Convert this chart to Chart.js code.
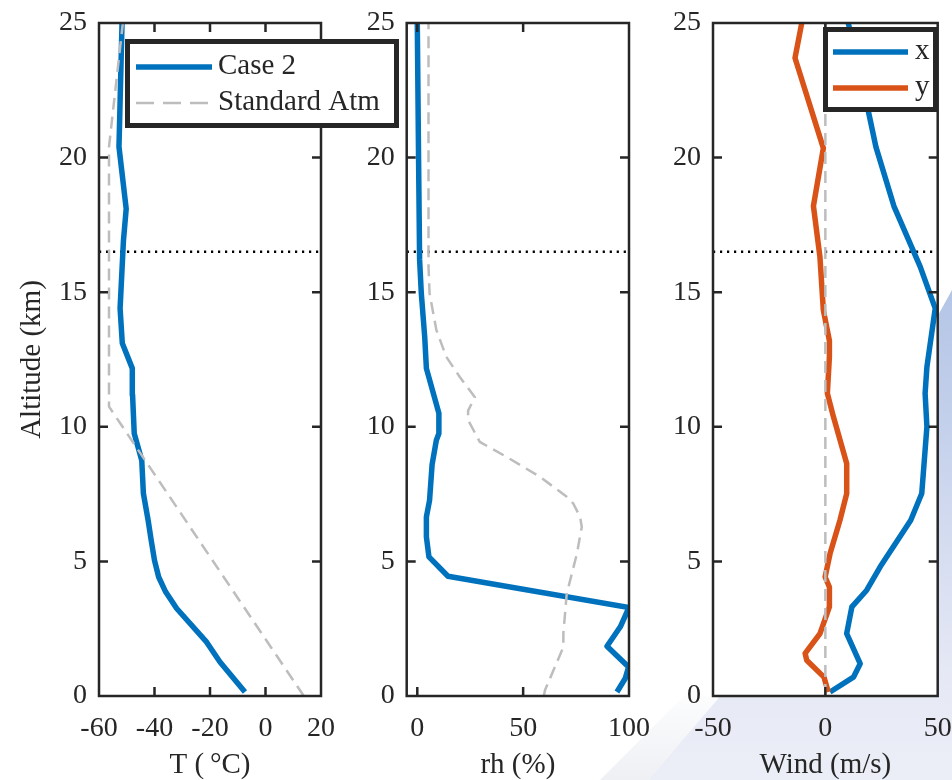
<!DOCTYPE html>
<html>
<head>
<meta charset="utf-8">
<script src="https://cdn.jsdelivr.net/npm/chart.js@4.4.0/dist/chart.umd.min.js"></script>
<style>
  html, body { margin: 0; padding: 0; background: #fff; }
  #wrap { position: relative; width: 952px; height: 780px; overflow: hidden; background: #fff; }
  #wrap canvas { position: absolute; left: 0; top: 0; }
  #swoosh {
    position: absolute; left: 0; top: 0; width: 952px; height: 780px;
    background: linear-gradient(to bottom, #b4c5e6 290px, #c3d0eb 420px, #d7def1 560px, #e6e9f5 680px, #eceef7 780px);
    clip-path: polygon(648px 780px, 717px 700px, 800px 560px, 880px 420px, 952px 290px, 952px 780px);
  }
  #glint {
    position: absolute; left: 0; top: 0; width: 952px; height: 780px;
    background: linear-gradient(to bottom, rgba(236,238,243,0) 680px, #eef0f4 780px);
    clip-path: polygon(600px 780px, 690px 690px, 717px 700px, 648px 780px);
  }
</style>
</head>
<body>
<div id="wrap">
  <div id="swoosh"></div>
  <div id="glint"></div>
  <canvas id="cT" width="952" height="780"></canvas>
  <canvas id="cRH" width="952" height="780"></canvas>
  <canvas id="cW" width="952" height="780"></canvas>
</div>
<script>
// ---- Temperature profile (altitude km, T in deg C) ----
const tempAlt  = [0.15, 1.26, 2.0, 3.25, 3.87, 4.42, 5.04, 5.79, 6.53, 7.52, 8.76, 9.75, 11.18, 12.17, 13.1, 14.4, 16.9, 18.1, 20.4, 25];
const tempCase = [-7.4, -16.4, -21.2, -32.0, -36.0, -38.5, -40.0, -41.2, -42.3, -44.0, -44.6, -47.3, -47.9, -48.0, -51.6, -52.4, -51.2, -50.2, -52.8, -51.7];
const stdTempAlt = [0, 10.75, 20.4, 25];
const stdTemp    = [13.8, -56.4, -56.4, -51.4];

// ---- Relative humidity profile (%) ----
const rhAlt  = [0.15, 0.65, 1.08, 1.85, 2.57, 3.29, 4.45, 5.17, 5.91, 6.65, 7.27, 8.6, 9.5, 9.75, 10.5, 12.17, 13.35, 14.96, 16.2, 20, 25];
const rhCase = [94.3, 98.2, 99.8, 89.6, 95.9, 100, 14.5, 5.5, 4.3, 4.3, 5.8, 7.0, 9.0, 10.2, 10.2, 4.3, 3.5, 1.9, 1.1, 0.6, 0];
const stdRhAlt = [0, 0.21, 1.08, 1.82, 2.32, 3.81, 4.05, 5.29, 6.28, 6.65, 7.16, 7.4, 8.14, 8.88, 9.44, 10.25, 10.6, 11.1, 11.86, 12.6, 13.6, 14.96, 15.95, 25];
const stdRh    = [59.8, 60.3, 65, 69, 69, 70.6, 71.4, 75.4, 77.7, 76.9, 73.6, 70.6, 58, 42.2, 29.5, 24, 24, 27.2, 20, 13.7, 9, 5.8, 5.3, 5.3];

// ---- Wind components (m/s) ----
const windXAlt = [0.15, 0.7, 1.2, 2.32, 3.31, 3.93, 4.8, 6.53, 7.52, 10.0, 11.24, 12.23, 14.4, 15.95, 18.2, 20.4, 21.7, 25];
const windX    = [2.1, 12.5, 15.5, 9.5, 11.8, 18.4, 24.4, 38.0, 42.9, 45.2, 44.4, 45.2, 48.9, 42.2, 30.5, 22.5, 19.2, 10.2];
const windYAlt = [0.15, 0.7, 1.33, 1.58, 2.32, 3.31, 4.05, 4.42, 5.29, 6.53, 7.52, 8.64, 10.37, 11.24, 12.6, 13.2, 14.34, 16.3, 18.2, 20.35, 23.7, 25];
const windY    = [1.3, -0.6, -8.3, -9.0, -2.4, 1.8, 1.8, -0.1, 2.1, 6.5, 9.5, 9.5, 3.6, 0.9, 1.8, 1.8, -0.9, -2.4, -5.3, -0.9, -13.5, -10.5];
const stdWindAlt = [0, 25];
const stdWind    = [0, 0];

// ---- Tropopause and axes ----
const tropopause = 16.5;
const altLimits  = [0, 25];
const altTicks   = [0, 5, 10, 15, 20, 25];
const tempLimits = [-60, 20];
const tempTicks  = [-60, -40, -20, 0, 20];
const rhLimits   = [-5, 100];
const rhTicks    = [0, 50, 100];
const windLimits = [-50, 50];
const windTicks  = [-50, 0, 50];

const INK = '#262626';
const BLUE = '#0072BD';
const ORANGE = '#D95319';
const GREY = '#bdbdbd';
const FONT = 'Liberation Serif, Times New Roman, serif';

const pairs = (xs, ys) => xs.map((v, i) => ({ x: v, y: ys[i] }));

function profile(label, xs, ys, color, width, dash, order) {
  return {
    label, data: pairs(xs, ys), showLine: true, fill: false,
    borderColor: color, backgroundColor: color, borderWidth: width,
    borderDash: dash || [], pointRadius: 0, pointHoverRadius: 0,
    tension: 0, borderJoinStyle: 'round', order
  };
}
function tropoLine(limits) {
  return {
    label: '', data: [{ x: limits[0], y: tropopause }, { x: limits[1], y: tropopause }],
    showLine: true, fill: false, borderColor: '#000', borderWidth: 2.4,
    borderDash: [2.2, 4.8], pointRadius: 0, order: 3
  };
}

// white axes background
const plotBg = {
  id: 'plotBg',
  beforeDraw(chart) {
    const { ctx, chartArea: a } = chart;
    ctx.save();
    ctx.fillStyle = '#fff';
    ctx.fillRect(a.left, a.top, a.right - a.left, a.bottom - a.top);
    ctx.restore();
  }
};

// box frame with inward tick marks on all four sides
const frame = {
  id: 'frame',
  afterDatasetsDraw(chart) {
    const { ctx, chartArea: a, scales: { x, y } } = chart;
    const L = 9;
    ctx.save();
    ctx.strokeStyle = INK;
    ctx.lineWidth = 2.5;
    ctx.setLineDash([]);
    ctx.beginPath();
    x.ticks.forEach(t => {
      const px = x.getPixelForValue(t.value);
      if (px <= a.left + 1 || px >= a.right - 1) return;
      ctx.moveTo(px, a.bottom); ctx.lineTo(px, a.bottom - L);
      ctx.moveTo(px, a.top); ctx.lineTo(px, a.top + L);
    });
    y.ticks.forEach(t => {
      const py = y.getPixelForValue(t.value);
      if (py <= a.top + 1 || py >= a.bottom - 1) return;
      ctx.moveTo(a.left, py); ctx.lineTo(a.left + L, py);
      ctx.moveTo(a.right, py); ctx.lineTo(a.right - L, py);
    });
    ctx.stroke();
    ctx.strokeRect(a.left, a.top, a.right - a.left, a.bottom - a.top);
    ctx.restore();
  }
};

// boxed legend, entries taken from the chart's own datasets
const boxLegend = {
  id: 'boxLegend',
  afterDraw(chart, args, opts) {
    if (!opts || !opts.rect) return;
    const { ctx } = chart;
    const [x0, y0, x1, y1] = opts.rect;
    const b = opts.border;
    ctx.save();
    ctx.fillStyle = '#fff';
    ctx.fillRect(x0, y0, x1 - x0, y1 - y0);
    ctx.lineWidth = b;
    ctx.strokeStyle = INK;
    ctx.setLineDash([]);
    ctx.strokeRect(x0 + b / 2, y0 + b / 2, x1 - x0 - b, y1 - y0 - b);
    opts.entries.forEach((idx, i) => {
      const ds = chart.data.datasets[idx];
      const yy = opts.rowY[i];
      ctx.beginPath();
      ctx.setLineDash(ds.borderDash && ds.borderDash.length ? [18, 9] : []);
      ctx.lineWidth = ds.borderWidth;
      ctx.strokeStyle = ds.borderColor;
      ctx.moveTo(opts.lineX[0], yy);
      ctx.lineTo(opts.lineX[1], yy);
      ctx.stroke();
      ctx.setLineDash([]);
      ctx.fillStyle = INK;
      ctx.font = '29px ' + FONT;
      ctx.textAlign = 'left';
      ctx.textBaseline = 'middle';
      ctx.fillText(ds.label, opts.textX, yy - 1);
    });
    ctx.restore();
  }
};

function makePanel(id, cfg) {
  const tickFont = { family: FONT, size: 28 };
  const titleFont = { family: FONT, size: 29, lineHeight: 1 };
  return new Chart(document.getElementById(id), {
    type: 'scatter',
    data: { datasets: cfg.datasets },
    options: {
      responsive: false,
      animation: false,
      devicePixelRatio: 1,
      layout: { padding: { left: cfg.padLeft, right: cfg.padRight, top: 23, bottom: 0 } },
      plugins: {
        legend: { display: false },
        tooltip: { enabled: false },
        boxLegend: cfg.legend
      },
      scales: {
        x: {
          type: 'linear', min: cfg.xLimits[0], max: cfg.xLimits[1],
          afterBuildTicks: s => { s.ticks = cfg.xTicks.map(v => ({ value: v })); },
          afterFit: s => { s.height = 84; s.paddingLeft = 0; s.paddingRight = 0; },
          grid: { display: false, drawTicks: false },
          border: { display: false },
          ticks: { font: tickFont, color: INK, padding: 16, maxRotation: 0, autoSkip: false, callback: v => String(v) },
          title: { display: true, text: cfg.xTitle, font: titleFont, color: INK, padding: 0 }
        },
        y: {
          type: 'linear', min: altLimits[0], max: altLimits[1],
          afterBuildTicks: s => { s.ticks = altTicks.map(v => ({ value: v })); },
          afterFit: s => { s.width = 81; s.paddingTop = 0; s.paddingBottom = 0; },
          grid: { display: false, drawTicks: false },
          border: { display: false },
          ticks: { font: tickFont, color: INK, padding: 12, autoSkip: false, callback: v => String(v) },
          title: { display: !!cfg.yTitle, text: cfg.yTitle || '', font: titleFont, color: INK, padding: 0 }
        }
      }
    },
    plugins: [plotBg, frame, boxLegend]
  });
}

// Panel 1: temperature
makePanel('cT', {
  padLeft: 18, padRight: 952 - 321,
  xLimits: tempLimits, xTicks: tempTicks,
  xTitle: 'T (\u2009\u00B0C)', yTitle: 'Altitude (km)',
  datasets: [
    profile('Case 2', tempCase, tempAlt, BLUE, 5.5, null, 1),
    profile('Standard Atm', stdTemp, stdTempAlt, GREY, 2.5, [12, 7], 0),
    tropoLine(tempLimits)
  ],
  legend: { rect: [125, 39, 399, 128], border: 5, entries: [0, 1], rowY: [67, 103], lineX: [136, 212], textX: 218 }
});

// Panel 2: relative humidity
makePanel('cRH', {
  padLeft: 406.7 - 81, padRight: 952 - 629,
  xLimits: rhLimits, xTicks: rhTicks,
  xTitle: 'rh (%)',
  datasets: [
    profile('Case 2', rhCase, rhAlt, BLUE, 5.5, null, 1),
    profile('Standard Atm', stdRh, stdRhAlt, GREY, 2.5, [12, 7], 0),
    tropoLine(rhLimits)
  ]
});

// Panel 3: wind components
makePanel('cW', {
  padLeft: 713 - 81, padRight: 14.3,
  xLimits: windLimits, xTicks: windTicks,
  xTitle: 'Wind (m/s)',
  datasets: [
    profile('x', windX, windXAlt, BLUE, 5.5, null, 2),
    profile('y', windY, windYAlt, ORANGE, 5.5, null, 1),
    profile('Standard Atm', stdWind, stdWindAlt, GREY, 2.5, [12, 7], 0),
    tropoLine(windLimits)
  ],
  legend: { rect: [823, 27, 938, 112], border: 5, entries: [0, 1], rowY: [52, 88], lineX: [833, 908], textX: 915 }
});
</script>
</body>
</html>
